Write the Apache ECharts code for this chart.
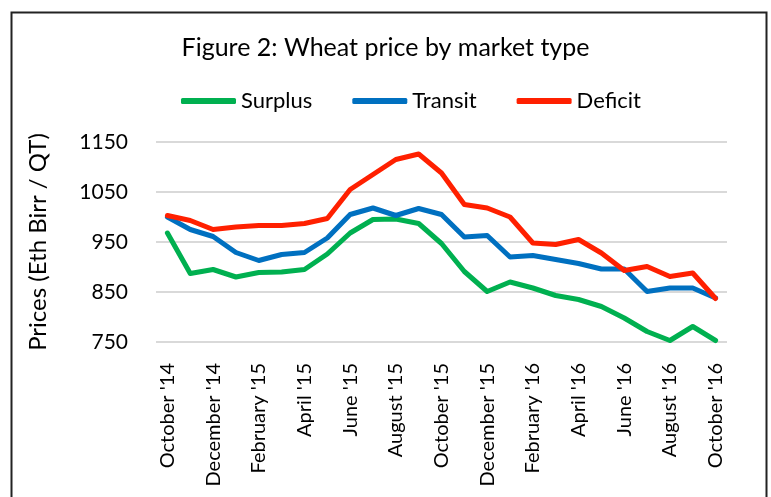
<!DOCTYPE html>
<html>
<head>
<meta charset="utf-8">
<script src="https://cdn.jsdelivr.net/npm/echarts@6/dist/echarts.min.js"></script>
<style>
  html, body { margin: 0; padding: 0; background: #fff; }
  #main-chart { width: 771px; height: 497px; }
</style>
</head>
<body>
<div id="main-chart"></div>
<script>
const myChart = echarts.init(document.getElementById('main-chart'));

const months = ["October '14", "November '14", "December '14", "January '15", "February '15", "March '15",
  "April '15", "May '15", "June '15", "July '15", "August '15", "September '15", "October '15",
  "November '15", "December '15", "January '16", "February '16", "March '16", "April '16",
  "May '16", "June '16", "July '16", "August '16", "September '16", "October '16"]
const surplus = [968, 887, 895, 880, 889, 890, 895, 926, 968, 995, 996, 987, 947,
  891, 851, 870, 858, 843, 835, 821, 798, 771, 753, 781, 753]
const transit = [1000, 975, 961, 929, 913, 925, 929, 958, 1005, 1018, 1003, 1017, 1005,
  960, 963, 920, 923, 915, 907, 896, 896, 851, 858, 858, 838]
const deficit = [1003, 993, 975, 980, 983, 983, 987, 997, 1055, 1085, 1115, 1126, 1088,
  1025, 1018, 1000, 948, 945, 955, 928, 893, 901, 881, 888, 837]

const font = 'Lato'

let option = {
    animation: false,
    title: {
        text: 'Figure 2: Wheat price by market type',
        left: 'center',
        top: 30,
        textStyle: { fontFamily: font, fontWeight: 'normal', fontSize: 25, color: '#000' }
    },
    legend: {
        top: 85,
        left: 176,
        itemWidth: 55,
        itemHeight: 6,
        itemGap: 40,
        icon: 'roundRect',
        textStyle: { fontFamily: font, fontSize: 22, color: '#000' },
        data: ['Surplus', 'Transit', 'Deficit']
    },
    grid: {
        left: 156,
        right: 44,
        top: 142,
        bottom: 155
    },
    xAxis: {
        type: 'category',
        data: months,
        boundaryGap: true,
        axisLine: { show: false },
        axisTick: { show: false },
        axisLabel: {
            rotate: 90,
            interval: 1,
            margin: 21,
            fontFamily: font,
            fontSize: 20,
            color: '#000'
        }
    },
    yAxis: {
        type: 'value',
        min: 750,
        max: 1150,
        interval: 100,
        name: 'Prices (Eth Birr / QT)',
        nameLocation: 'middle',
        nameGap: 106,
        nameTextStyle: { fontFamily: font, fontSize: 24, color: '#000' },
        axisLine: { show: false },
        axisTick: { show: false },
        axisLabel: {
            fontFamily: font, fontSize: 21, color: '#000', margin: 28,
            formatter: v => String(v)
        },
        splitLine: { lineStyle: { color: '#d9d9d9', width: 2 } }
    },
    series: [
        { name: 'Surplus', type: 'line', data: surplus, showSymbol: false, color: '#00b050',
          lineStyle: { width: 5, cap: 'round', join: 'round' } },
        { name: 'Transit', type: 'line', data: transit, showSymbol: false, color: '#0070c0',
          lineStyle: { width: 5, cap: 'round', join: 'round' } },
        { name: 'Deficit', type: 'line', data: deficit, showSymbol: false, color: '#ff2000',
          lineStyle: { width: 5, cap: 'round', join: 'round' } }
    ],
    graphic: [{
        type: 'rect',
        shape: { x: 11.5, y: 12.5, width: 755, height: 500 },
        style: { fill: 'none', stroke: '#222', lineWidth: 2 },
        silent: true
    }]
};

myChart.setOption(option);
</script>
</body>
</html>
